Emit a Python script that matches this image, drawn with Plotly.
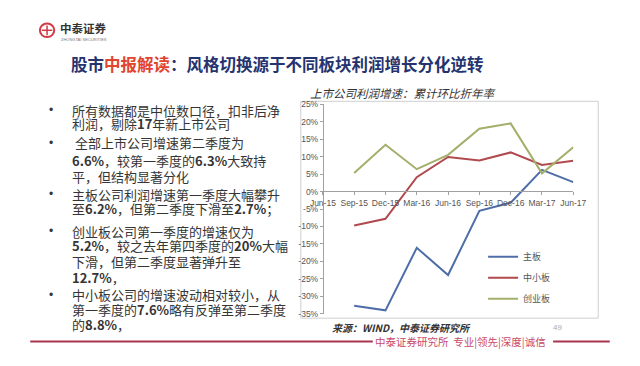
import plotly.graph_objects as go

W, H = 640, 366

# ---- data ----
quarters = ["Jun-15", "Sep-15", "Dec-15", "Mar-16", "Jun-16", "Sep-16", "Dec-16", "Mar-17", "Jun-17"]
main_board = [None, -32.7, -34.0, -16.1, -23.9, -5.5, -3.2, 6.2, 2.7]
sme_board = [None, -9.7, -7.8, 4.1, 9.9, 8.9, 11.2, 7.6, 8.8]
chinext = [None, 5.3, 13.4, 6.4, 10.5, 18.0, 19.5, 5.2, 12.7]
series_names = ["主板", "中小板", "创业板"]
series_colors = ["#4f6ea8", "#b04a4e", "#a3af6a"]
y_ticks = [25, 20, 15, 10, 5, 0, -5, -10, -15, -20, -25, -30, -35]
y_tick_labels = [f"{v}%" for v in y_ticks]

FONT = "Liberation Sans, Arial, Noto Sans CJK SC, sans-serif"
CJK = "Noto Sans CJK SC, Liberation Sans, sans-serif"


def px(x):
    return x / W


def py(y):
    return 1 - y / H


fig = go.Figure()
for i, (name, vals) in enumerate(zip(series_names, [main_board, sme_board, chinext])):
    fig.add_trace(go.Scatter(
        x=quarters, y=vals, mode="lines", name=name,
        line=dict(color=series_colors[i], width=2),
        legendgroup=name, connectgaps=False,
    ))

annotations = []
shapes = []


def note(x, y, text, font, xanchor="left", align="left"):
    annotations.append(dict(
        x=px(x), y=py(y), xref="paper", yref="paper", xanchor=xanchor, yanchor="middle",
        align=align, showarrow=False, text=text, font=font, borderpad=0, borderwidth=0))


# title
note(60, 61,
     "<b><span style='color:#25336f'>股市</span><span style='color:#e2452e'>中报解读</span>"
     "<span style='color:#25336f'>：风格切换源于不同板块利润增长分化逆转</span></b>",
     dict(family=CJK, size=16.5))

# logo
shapes.append(dict(type="circle", xref="paper", yref="paper",
                   x0=px(28), x1=px(43), y0=py(33), y1=py(19),
                   line=dict(color="#d23a44", width=2)))
shapes.append(dict(type="line", xref="paper", yref="paper",
                   x0=px(30), x1=px(41), y0=py(26), y1=py(26),
                   line=dict(color="#d23a44", width=1.5)))
shapes.append(dict(type="line", xref="paper", yref="paper",
                   x0=px(35.5), x1=px(35.5), y0=py(21), y1=py(31),
                   line=dict(color="#d23a44", width=1.5)))
note(49, 23.5, "<b>中泰证券</b>", dict(family=CJK, size=11.5, color="#333333"))
note(50, 35, "ZHONGTAI SECURITIES", dict(family=FONT, size=4, color="#777777"))

# bullet text, one annotation per line
bullet_lines = [
    (108.0, True, "所有数据都是中位数口径，扣非后净"),
    (122.0, False, "利润，剔除<b>17</b>年新上市公司"),
    (141.5, True, "\u00a0全部上市公司增速第二季度为"),
    (159.5, False, "<b>6.6%</b>，较第一季度的<b>6.3%</b>大致持"),
    (176.0, False, "平，但结构显著分化"),
    (194.5, True, "主板公司利润增速第一季度大幅攀升"),
    (209.0, False, "至<b>6.2%</b>，但第二季度下滑至<b>2.7%</b>；"),
    (232.5, True, "创业板公司第一季度的增速仅为"),
    (247.5, False, "<b>5.2%</b>，较之去年第四季度的<b>20%</b>大幅"),
    (263.5, False, "下滑，但第二季度显著弹升至"),
    (280.5, False, "<b>12.7%</b>，"),
    (297.8, True, "中小板公司的增速波动相对较小，从"),
    (313.0, False, "第一季度的<b>7.6%</b>略有反弹至第二季度"),
    (328.8, False, "的<b>8.8%</b>，"),
]
for y, bullet, txt in bullet_lines:
    note(62, y, txt, dict(family=CJK, size=13, color="#353535"))
    if bullet:
        note(40, y, "•", dict(family=FONT, size=12, color="#353535"), xanchor="center", align="center")

# chart title
note(310, 90, "<i>上市公司利润增速：累计环比折年率</i>",
     dict(family=CJK, size=11.5, color="#333333"))

# chart border
shapes.append(dict(type="rect", xref="paper", yref="paper",
                   x0=px(300), x1=px(610), y0=py(322), y1=py(99),
                   line=dict(color="#cfcfcf", width=1), layer="below"))

# source and page number
note(333, 332, "<b><i>来源：WIND，中泰证券研究所</i></b>", dict(family=CJK, size=10, color="#333333"))
note(568, 332, "49", dict(family=FONT, size=8, color="#aaaaaa"), xanchor="center", align="center")

# footer
for x0, x1 in [(18, 375), (563, 622)]:
    shapes.append(dict(type="line", xref="paper", yref="paper",
                       x0=px(x0), x1=px(x1), y0=py(346), y1=py(346),
                       line=dict(color="#a8344f", width=2)))
note(466, 346, "中泰证券研究所  专业|领先|深度|诚信",
     dict(family=CJK, size=10.5, color="#c84a6a"), xanchor="center", align="center")

fig.update_layout(
    width=W, height=H, autosize=False,
    margin=dict(l=0, r=0, t=0, b=0),
    paper_bgcolor="white", plot_bgcolor="rgba(0,0,0,0)",
    showlegend=True,
    legend=dict(x=px(490), y=py(244), xanchor="left", yanchor="top",
                font=dict(family=CJK, size=9, color="#555555"),
                traceorder="grouped", tracegroupgap=2, itemwidth=30,
                bgcolor="rgba(0,0,0,0)"),
    xaxis=dict(type="category", categoryorder="array", categoryarray=quarters,
               range=[0, 8], domain=[px(323), px(584)],
               anchor="free", position=py(191.7),
               showline=True, linecolor="#a0a0a0", linewidth=1,
               ticks="outside", ticklen=3, tickcolor="#a0a0a0",
               showgrid=False, zeroline=False,
               tickfont=dict(family=FONT, size=8.5, color="#555555")),
    yaxis=dict(range=[-35, 25], tickmode="array", tickvals=y_ticks, ticktext=y_tick_labels,
               domain=[py(317.5), py(102)],
               anchor="free", position=px(323),
               showline=True, linecolor="#a0a0a0", linewidth=1,
               ticks="outside", ticklen=3, tickcolor="#a0a0a0",
               showgrid=False, zeroline=False,
               tickfont=dict(family=FONT, size=8.5, color="#555555")),
    annotations=annotations, shapes=shapes,
)

fig.write_html("out.html", config={"displayModeBar": False},
               post_script="document.body.style.margin='0';document.body.style.overflow='hidden';")
